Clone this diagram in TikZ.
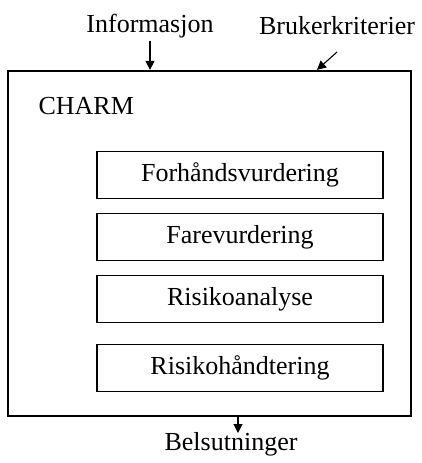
\documentclass[tikz,border=0pt]{standalone}
\usepackage{fontspec}
\setmainfont{Liberation Serif}
\usetikzlibrary{arrows.meta}

\begin{document}
\begin{tikzpicture}[x=1pt,y=-1pt,font=\fontsize{26}{30}\selectfont,
    stage/.style={draw,line width=1.1pt,minimum width=286pt,minimum height=47pt,inner sep=0pt},
    flow/.style={line width=1.1pt,-{Triangle[length=9pt,width=9pt]}}]
        \useasboundingbox (0,0) rectangle (421,463);
        % Outer box
        \node (charm) [draw,line width=2.2pt,minimum width=403pt,minimum height=345pt] at (209.5,243.5) {};
        \node (name) [anchor=west] at (35,106) {CHARM};
        % Stages
        \node (forh) [stage] at (240,175) {Forhåndsvurdering};
        \node (fare) [stage] at (240,237) {Farevurdering};
        \node (risa) [stage] at (240,299) {Risikoanalyse};
        \node (rish) [stage] at (240,368) {Risikohåndtering};
        % Inputs
        \node (info) at (150,26) {Informasjon};
        \node (bruk) at (337,26) {Brukerkriterier};
        \coordinate (bruk-tail) at (337,52);
        \coordinate (bruk-x) at (317,0);
        \draw[flow] (info.south) -- (info.south |- charm.north);
        \draw[flow] (bruk-tail) -- (bruk-x |- charm.north);
        % Output
        \node (bes) at (231,444) {Belsutninger};
        \coordinate (bes-head) at (238,433);
        \draw[flow] (bes-head |- charm.south) -- (bes-head);
    \end{tikzpicture}
\end{document}
